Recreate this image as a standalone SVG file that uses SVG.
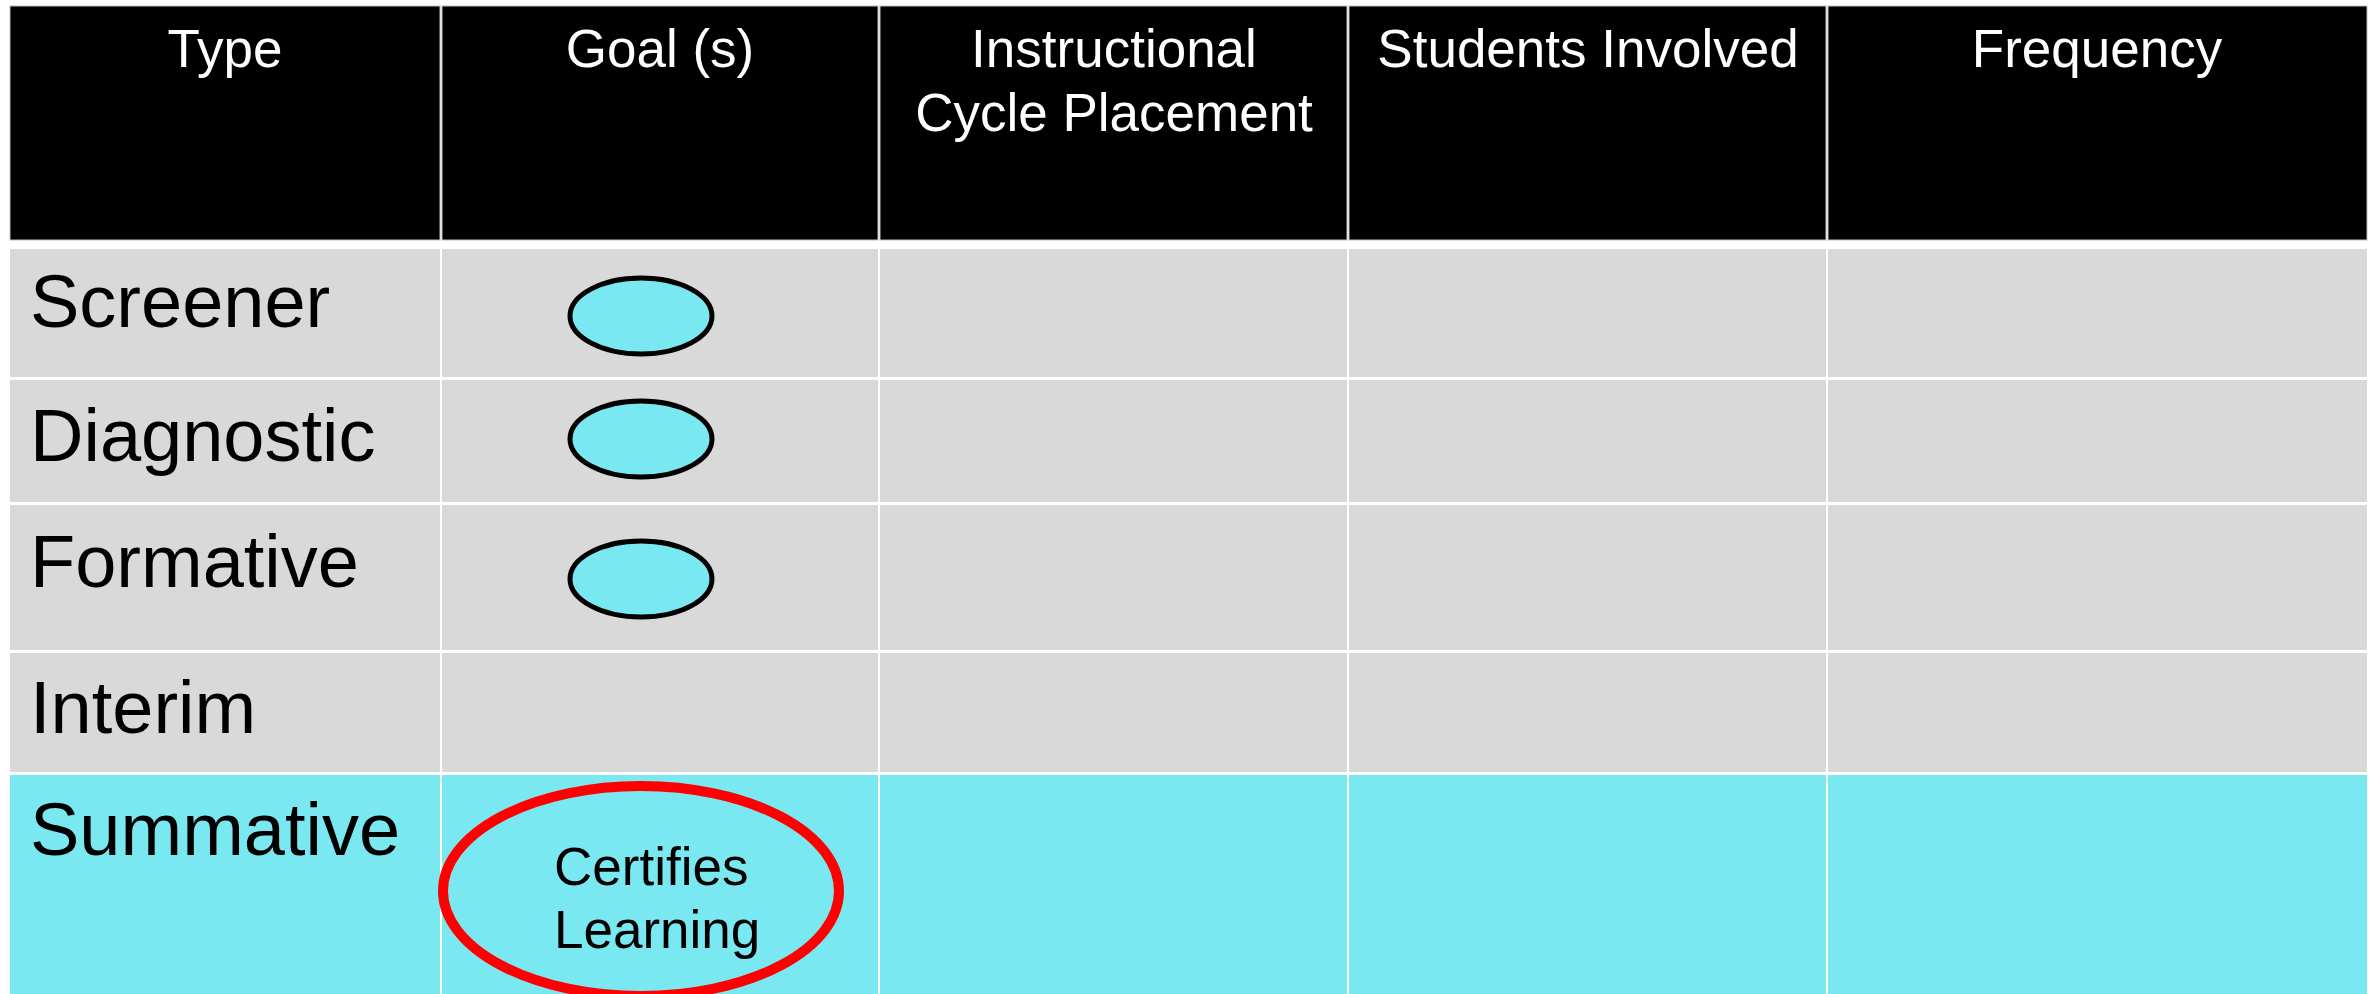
<svg xmlns="http://www.w3.org/2000/svg" width="2379" height="994" viewBox="0 0 2379 994">
<style>
.hd{fill:#000000;stroke:#bfbfbf;stroke-width:1}
.gr{fill:#d9d9d9}
.cy{fill:#7ae8f0}
.ht{font-family:"Liberation Sans",Arial,sans-serif;font-size:53px;fill:#ffffff;text-anchor:middle}
.rt{font-family:"Liberation Sans",Arial,sans-serif;font-size:74px;fill:#000000}
.ct{font-family:"Liberation Sans",Arial,sans-serif;font-size:53px;fill:#000000}
.goal{fill:#7ae8f0;stroke:#000000;stroke-width:5}
</style>
<rect x="0" y="0" width="2379" height="994" fill="#ffffff"/>
<g id="header">
<rect class="hd" x="10" y="6" width="430" height="234"/>
<rect class="hd" x="442" y="6" width="436" height="234"/>
<rect class="hd" x="880" y="6" width="467" height="234"/>
<rect class="hd" x="1349" y="6" width="477" height="234"/>
<rect class="hd" x="1828" y="6" width="539" height="234"/>
<text class="ht" x="225" y="67">Type</text>
<text class="ht" x="660" y="67">Goal (s)</text>
<text class="ht" x="1114" y="67">Instructional</text>
<text class="ht" x="1114" y="131">Cycle Placement</text>
<text class="ht" x="1588" y="67">Students Involved</text>
<text class="ht" x="2097" y="67">Frequency</text>
</g>
<g id="row-screener">
<rect class="gr" x="10" y="249" width="430" height="128"/>
<rect class="gr" x="442" y="249" width="436" height="128"/>
<rect class="gr" x="880" y="249" width="467" height="128"/>
<rect class="gr" x="1349" y="249" width="477" height="128"/>
<rect class="gr" x="1828" y="249" width="539" height="128"/>
<text class="rt" x="30" y="327">Screener</text>
</g>
<g id="row-diagnostic">
<rect class="gr" x="10" y="380" width="430" height="122"/>
<rect class="gr" x="442" y="380" width="436" height="122"/>
<rect class="gr" x="880" y="380" width="467" height="122"/>
<rect class="gr" x="1349" y="380" width="477" height="122"/>
<rect class="gr" x="1828" y="380" width="539" height="122"/>
<text class="rt" x="30" y="461">Diagnostic</text>
</g>
<g id="row-formative">
<rect class="gr" x="10" y="505" width="430" height="145"/>
<rect class="gr" x="442" y="505" width="436" height="145"/>
<rect class="gr" x="880" y="505" width="467" height="145"/>
<rect class="gr" x="1349" y="505" width="477" height="145"/>
<rect class="gr" x="1828" y="505" width="539" height="145"/>
<text class="rt" x="30" y="587">Formative</text>
</g>
<g id="row-interim">
<rect class="gr" x="10" y="653" width="430" height="119"/>
<rect class="gr" x="442" y="653" width="436" height="119"/>
<rect class="gr" x="880" y="653" width="467" height="119"/>
<rect class="gr" x="1349" y="653" width="477" height="119"/>
<rect class="gr" x="1828" y="653" width="539" height="119"/>
<text class="rt" x="30" y="733">Interim</text>
</g>
<g id="row-summative">
<rect class="cy" x="10" y="775" width="430" height="219"/>
<rect class="cy" x="442" y="775" width="436" height="219"/>
<rect class="cy" x="880" y="775" width="467" height="219"/>
<rect class="cy" x="1349" y="775" width="477" height="219"/>
<rect class="cy" x="1828" y="775" width="539" height="219"/>
<text class="rt" x="30" y="855">Summative</text>
</g>
<g id="goal-screener"><ellipse class="goal" cx="641" cy="316" rx="71" ry="38"/></g>
<g id="goal-diagnostic"><ellipse class="goal" cx="641" cy="439" rx="71" ry="38"/></g>
<g id="goal-formative"><ellipse class="goal" cx="641" cy="579" rx="71" ry="38"/></g>
<g id="goal-summative">
<ellipse cx="641" cy="891" rx="198" ry="105" fill="#7ae8f0" stroke="#ff0000" stroke-width="10"/>
<text class="ct" x="554" y="885">Certifies</text>
<text class="ct" x="554" y="948">Learning</text>
</g>
<g id="connectors"></g>
</svg>
